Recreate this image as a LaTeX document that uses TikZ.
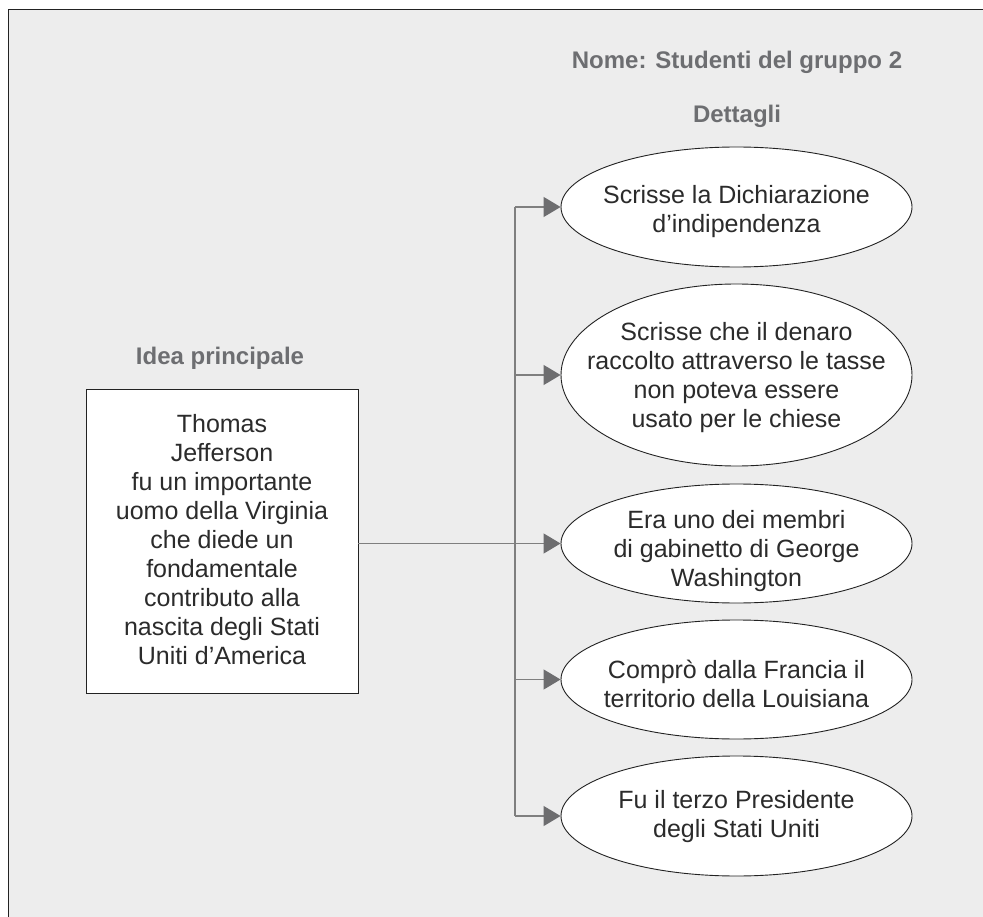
\documentclass[tikz,border=0pt]{standalone}
\usepackage{fontspec}
\setmainfont{Liberation Sans}
\usetikzlibrary{shapes.geometric,arrows.meta}
\definecolor{bgfill}{HTML}{EDEDED}
\definecolor{headgray}{HTML}{6D6E71}
\definecolor{linegray}{HTML}{7F7F7F}
\definecolor{tipgray}{HTML}{6D6D6F}
\definecolor{textdark}{HTML}{2B2B2B}
\definecolor{framedark}{HTML}{222222}
\tikzset{
  head/.style={font=\fontsize{24}{28}\selectfont\bfseries, text=headgray, inner sep=0pt},
  bodytext/.style={align=center, text=textdark, font=\fontsize{25}{29}\selectfont, inner sep=0pt},
  mainbox/.style={draw=framedark, line width=0.9pt, fill=white, minimum width=272pt, minimum height=304pt, inner sep=0pt},
  detail/.style={ellipse, draw=framedark, line width=0.9pt, fill=white, minimum width=351pt, inner sep=0pt},
  conn/.style={draw=linegray, line width=1.3pt},
  arr/.style={conn, -{Triangle[length=17pt,width=20pt,color=tipgray]}}
}
\begin{document}
\begin{tikzpicture}[x=1pt,y=-1pt]
\useasboundingbox (0,0) rectangle (983,917);
\fill[white] (0,0) rectangle (983,917);
\fill[bgfill] (8.5,9.5) rectangle (983,917);
\draw[framedark, line width=1.8pt] (8.5,917) -- (8.5,9.5) -- (983,9.5);

\node[head] (nome) at (737,62) {Nome: Studenti del gruppo 2};
\node[head] (dett) at (737,116) {Dettagli};
\node[head] (idea) at (220,358) {Idea principale};

\node[mainbox] (jeff) at (222,541) {};
\node[bodytext] (jefft) at (222,540) {Thomas\\Jefferson\\fu un importante\\uomo della Virginia\\che diede un\\fondamentale\\contributo alla\\nascita degli Stati\\Uniti d’America};

\node[detail, minimum height=120pt] (e1) at (736.5,207) {};
\node[detail, minimum height=182pt] (e2) at (736.5,375) {};
\node[detail, minimum height=119pt] (e3) at (736.5,543.5) {};
\node[detail, minimum height=119pt] (e4) at (736.5,679.5) {};
\node[detail, minimum height=120pt] (e5) at (736.5,816) {};

\node[bodytext] (e1t) at (736.5,212) {Scrisse la Dichiarazione\\d’indipendenza};
\node[bodytext] (e2t) at (736.5,378) {Scrisse che il denaro\\raccolto attraverso le tasse\\non poteva essere\\usato per le chiese};
\node[bodytext] (e3t) at (736.5,551) {Era uno dei membri\\di gabinetto di George\\Washington};
\node[bodytext] (e4t) at (736.5,684) {Comprò dalla Francia il\\territorio della Louisiana};
\node[bodytext] (e5t) at (736.5,817) {Fu il terzo Presidente\\degli Stati Uniti};

\coordinate (trunk) at (515,543.5);
\draw[conn] (trunk |- e1.west) -- (trunk |- e5.west);
\draw[arr] (jeff.east |- e3.west) -- (e3.west);
\foreach \e in {e1,e2,e4,e5} {
  \draw[arr] (trunk |- \e.west) -- (\e.west);
}
\end{tikzpicture}
\end{document}
